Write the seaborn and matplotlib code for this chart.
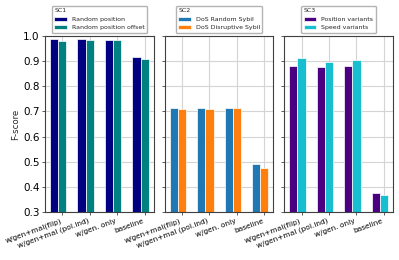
import matplotlib
matplotlib.use("Agg")
import matplotlib.pyplot as plt
import seaborn as sns
import pandas as pd

categories = ["w/gen+mal(flip)", "w/gen+mal (pol.ind)", "w/gen. only", "baseline"]

sc1_random_position = [0.987, 0.988, 0.984, 0.915]
sc1_random_position_offset = [0.981, 0.984, 0.983, 0.910]
sc2_dos_random_sybil = [0.712, 0.713, 0.712, 0.490]
sc2_dos_disruptive_sybil = [0.711, 0.708, 0.712, 0.476]
sc3_position_variants = [0.880, 0.875, 0.882, 0.374]
sc3_speed_variants = [0.911, 0.896, 0.904, 0.367]

panels = [
    ("SC1", [("Random position", sc1_random_position),
             ("Random position offset", sc1_random_position_offset)],
     ["#000080", "#008080"]),
    ("SC2", [("DoS Random Sybil", sc2_dos_random_sybil),
             ("DoS Disruptive Sybil", sc2_dos_disruptive_sybil)],
     ["#1f77b4", "#ff7f0e"]),
    ("SC3", [("Position variants", sc3_position_variants),
             ("Speed variants", sc3_speed_variants)],
     ["#4b0082", "#17becf"]),
]

sns.set_style("whitegrid")
plt.rcParams.update({
    "font.family": ["DejaVu Sans"],
    "axes.edgecolor": "0.25",
    "axes.linewidth": 0.8,
    "grid.color": "#d4d4d4",
    "grid.linewidth": 0.8,
    "xtick.bottom": True,
    "ytick.left": True,
    "xtick.major.size": 2.5,
    "ytick.major.size": 2.5,
    "xtick.major.width": 0.6,
    "ytick.major.width": 0.6,
    "xtick.color": "0.25",
    "ytick.color": "0.25",
    "xtick.labelcolor": "black",
    "ytick.labelcolor": "black",
})

fig, axes = plt.subplots(1, 3, figsize=(3.99, 2.6), dpi=100, sharey=True)
fig.subplots_adjust(left=0.1128, right=0.985, bottom=0.1846, top=0.8615, wspace=0.1)

for ax, (title, series, colors) in zip(axes, panels):
    rows = []
    for name, vals in series:
        for c, v in zip(categories, vals):
            rows.append({"cat": c, "series": name, "value": v})
    df = pd.DataFrame(rows)
    sns.barplot(data=df, x="cat", y="value", hue="series", order=categories,
                hue_order=[s[0] for s in series], palette=colors, width=0.6,
                saturation=1, edgecolor="white", linewidth=0.5, ax=ax,
                errorbar=None)
    ax.set_ylim(0.3, 1.0)
    ax.set_xlim(-0.48, 3.48)
    ax.set_xticks([i + 0.15 for i in range(len(categories))])
    ax.set_xticklabels(categories, rotation=20, ha="right", fontsize=5.3)
    ax.tick_params(axis="x", pad=1.5)
    ax.tick_params(axis="y", labelsize=7.5, pad=1.5)
    ax.set_xlabel("")
    ax.set_ylabel("")
    ax.set_yticks([0.3, 0.4, 0.5, 0.6, 0.7, 0.8, 0.9, 1.0])
    for sp in ax.spines.values():
        sp.set_visible(True)
    ax.grid(True, axis="both")
    ax.set_axisbelow(True)
    leg = ax.legend(title=title, loc="lower center", bbox_to_anchor=(0.5, 1.0),
                    fontsize=4.5, title_fontsize=4.5, frameon=True,
                    framealpha=1, edgecolor="0.7", alignment="left",
                    shadow=False)

axes[0].set_ylabel("F-score", fontsize=6.2, labelpad=2)

fig.savefig("out.png", dpi=100)
